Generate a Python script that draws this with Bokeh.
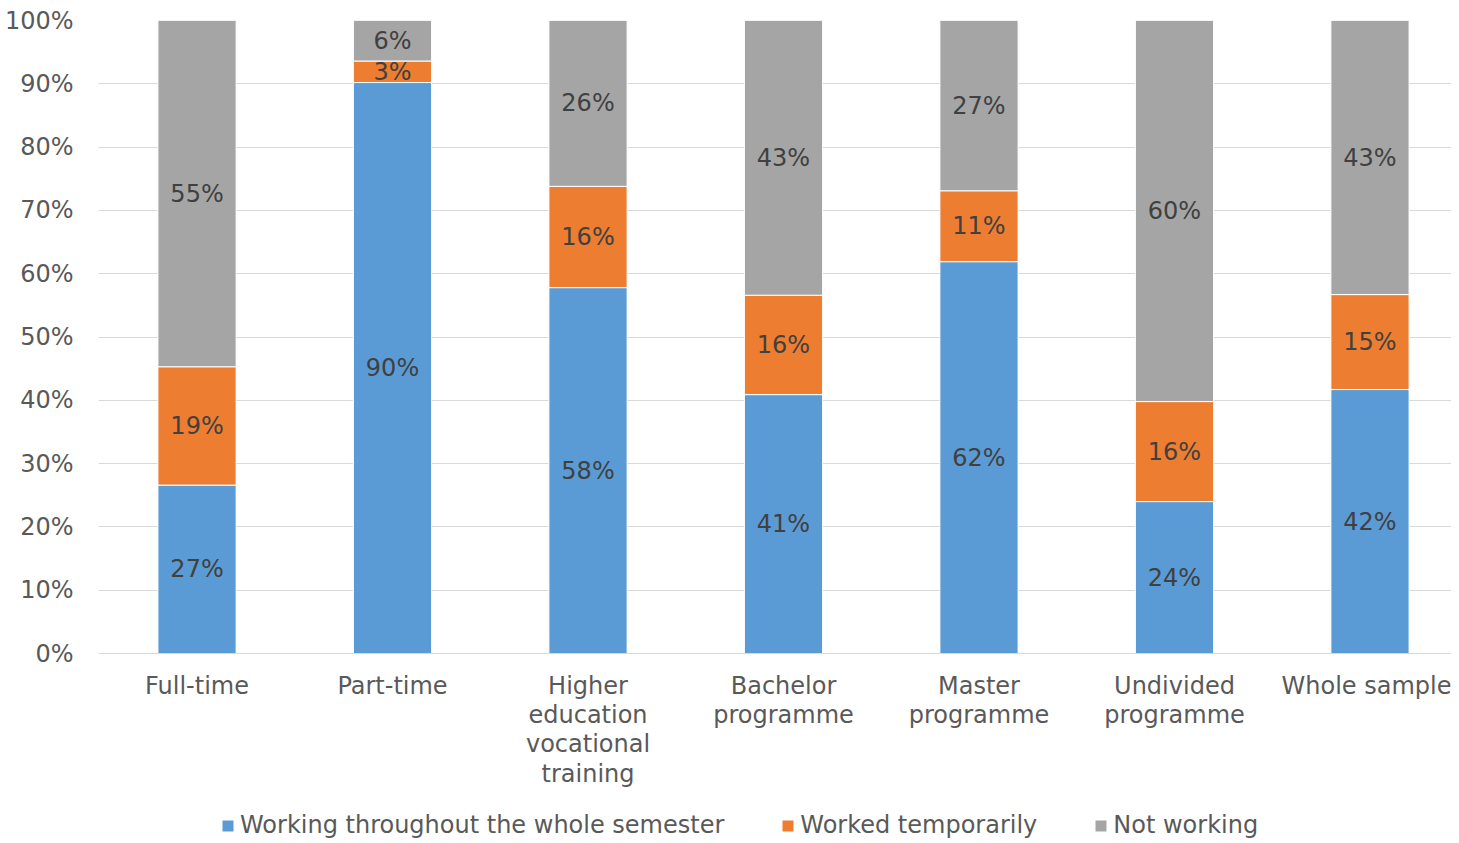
from bokeh.plotting import figure
from bokeh.models import Range1d, FixedTicker, Legend, LegendItem, ColumnDataSource
from bokeh.core.properties import value
from bokeh.embed import file_html
from bokeh.resources import INLINE

categories = ["Full-time", "Part-time", "Higher\neducation\nvocational\ntraining",
              "Bachelor\nprogramme", "Master\nprogramme", "Undivided\nprogramme", "Whole sample"]
working_whole = [26.6, 90.2, 57.8, 40.9, 61.9, 24.0, 41.7]
worked_temp = [18.7, 3.4, 16.0, 15.7, 11.2, 15.8, 15.0]
not_working = [54.7, 6.4, 26.2, 43.4, 26.9, 60.2, 43.3]
series_names = ["Working throughout the whole semester", "Worked temporarily", "Not working"]
colors = ["#5B9BD5", "#ED7D31", "#A5A5A5"]
y_ticks = [0, 10, 20, 30, 40, 50, 60, 70, 80, 90, 100]

FONT = "DejaVu Sans"
FS = "24px"

PX_PER_PCT = 6.33      # vertical scale of the bars
FRAME_H = 819          # frame also hosts the category labels and legend
Y_MIN = -(FRAME_H - 100 * PX_PER_PCT) / PX_PER_PCT

xs = list(range(len(categories)))
src = ColumnDataSource(dict(x=xs, s0=working_whole, s1=worked_temp, s2=not_working))

p = figure(frame_width=1353, frame_height=FRAME_H, output_backend="svg", toolbar_location=None,
           x_range=Range1d(-0.504, 6.417), y_range=Range1d(Y_MIN, 100),
           min_border_left=98, min_border_right=0, min_border_top=20, min_border_bottom=0)
p.outline_line_color = None

renderers = p.vbar_stack(["s0", "s1", "s2"], x="x", width=0.4, source=src,
                         color=colors, line_color="white", line_width=1)

# data labels
lx, ly, lt = [], [], []
for i in xs:
    bottom = 0
    for vals in (working_whole, worked_temp, not_working):
        v = vals[i]
        lx.append(i)
        ly.append(bottom + v / 2)
        lt.append(f"{round(v)}%")
        bottom += v
p.text(x=lx, y=ly, text=lt, text_align="center", text_baseline="middle",
       text_color="#404040", text_font=value(FONT), text_font_size=FS)

# y axis
p.yaxis.ticker = FixedTicker(ticks=y_ticks)
p.yaxis.major_label_overrides = {t: f"{t}%" for t in y_ticks}
p.yaxis.axis_line_color = None
p.yaxis.major_tick_line_color = None
p.yaxis.minor_tick_line_color = None
p.yaxis.major_tick_out = 0
p.yaxis.major_label_standoff = 25
p.yaxis.major_label_text_color = "#595959"
p.yaxis.major_label_text_font = FONT
p.yaxis.major_label_text_font_size = FS

# x axis, drawn at the 0% line
p.xaxis.fixed_location = 0
p.xaxis.ticker = FixedTicker(ticks=xs)
p.xaxis.major_label_overrides = {i: c for i, c in zip(xs, categories)}
p.xaxis.axis_line_color = "#D9D9D9"
p.xaxis.axis_line_width = 1
p.xaxis.major_tick_line_color = None
p.xaxis.minor_tick_line_color = None
p.xaxis.major_tick_out = 0
p.xaxis.major_label_standoff = 18
p.xaxis.major_label_text_color = "#595959"
p.xaxis.major_label_text_font = FONT
p.xaxis.major_label_text_font_size = FS
p.xaxis.major_label_text_line_height = 1.05

p.xgrid.grid_line_color = None
p.ygrid.grid_line_color = "#D9D9D9"
p.ygrid.grid_line_width = 1

legend = Legend(items=[LegendItem(label=n, renderers=[r]) for n, r in zip(series_names, renderers)],
                orientation="horizontal", location=(122, 0),
                label_text_font=FONT, label_text_font_size=FS, label_text_color="#595959",
                glyph_width=15, glyph_height=15, label_standoff=5, spacing=56,
                border_line_color=None, background_fill_alpha=0, padding=0, margin=0)
p.add_layout(legend)

open("out.html", "w").write(file_html(p, INLINE))
